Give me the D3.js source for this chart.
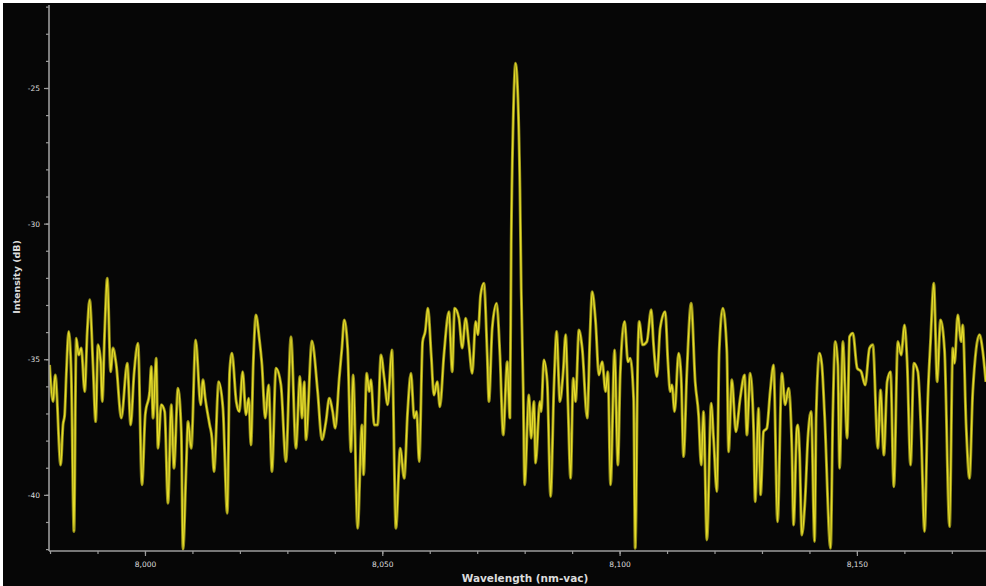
<!DOCTYPE html>
<html>
<head>
<meta charset="utf-8">
<script src="https://cdn.jsdelivr.net/npm/d3@7"></script>
<style>
  html, body { margin: 0; padding: 0; background: #ffffff; }
  svg { display: block; }
</style>
</head>
<body>
<svg id="chart" width="986" height="586"></svg>
<script>
// Spectrum trace: wavelength (nm, vacuum) and measured intensity (dB)
const wavelength = [
  7979.9, 7980.62, 7981.10, 7982.24, 7982.73, 7983.08, 7983.42, 7983.93, 7984.47, 7985.04,
  7985.53, 7986.03, 7986.58, 7987.30, 7987.84, 7988.35, 7989.05, 7989.61, 7990.10, 7990.67,
  7991.00, 7991.51, 7992.06, 7992.77, 7993.26, 7993.95, 7995.01, 7996.27, 7996.99, 7997.68,
  7998.53, 7999.37, 8000.06, 8000.99, 8001.33, 8001.69, 8002.38, 8002.74, 8003.43, 8004.15,
  8004.85, 8005.54, 8006.11, 8006.95, 8007.65, 8008.01, 8008.70, 8009.06, 8009.75, 8010.68,
  8011.73, 8012.22, 8012.70, 8013.63, 8014.11, 8014.54, 8015.53, 8016.43, 8017.34, 8017.84,
  8018.33, 8019.23,
  8019.87, 8020.58, 8021.28, 8021.85, 8022.33, 8022.81, 8023.38, 8024.08, 8024.65, 8025.34,
  8026.06, 8026.75, 8027.60, 8028.65, 8029.70, 8030.76, 8031.81, 8032.65, 8033.07, 8033.56,
  8033.92, 8035.18, 8036.38, 8037.29, 8038.13, 8038.83, 8039.54, 8040.09, 8040.93, 8041.50,
  8041.98, 8042.70, 8043.40, 8043.86, 8044.81, 8045.71, 8046.07, 8046.70, 8047.25, 8047.61,
  8048.30, 8049.02, 8049.72, 8050.41, 8051.13, 8052.03, 8052.87, 8053.78, 8054.62, 8055.34,
  8056.04, 8056.73, 8057.24, 8057.78, 8058.50, 8059.05,
  8059.62, 8060.31, 8060.88, 8061.58, 8062.14, 8062.99, 8064.04, 8064.74, 8065.24, 8066.15,
  8066.84, 8067.56, 8068.25, 8068.95, 8069.67, 8070.15, 8070.72, 8071.41, 8072.11, 8072.47,
  8073.16, 8074.09, 8074.79, 8075.48, 8076.32, 8076.89, 8077.16, 8077.58, 8078.09, 8078.58,
  8079.00, 8079.27, 8079.69, 8079.99, 8080.89, 8081.36, 8081.95, 8082.30, 8083.21, 8083.48,
  8084.05, 8084.75, 8085.47, 8086.16, 8086.73, 8087.42, 8088.12, 8088.63, 8089.11, 8089.68,
  8090.23, 8090.73, 8091.43, 8092.12, 8093.18, 8093.74, 8094.23, 8094.94, 8095.64, 8096.33,
  8097.05, 8097.53, 8098.10,
  8098.94, 8099.64, 8100.13, 8101.05, 8101.75, 8102.23, 8102.95, 8103.29, 8103.86, 8104.13,
  8104.85, 8105.75, 8106.66, 8107.16, 8107.86, 8108.55, 8109.61, 8110.18, 8110.66, 8111.02,
  8111.59, 8112.43, 8112.98, 8113.48, 8114.18, 8115.08, 8115.93, 8116.64, 8117.19, 8117.69,
  8118.39, 8119.30, 8119.80, 8120.50, 8120.98, 8121.76, 8122.60, 8122.96, 8123.66, 8124.50,
  8125.41, 8126.33, 8126.82, 8127.51, 8128.23, 8128.57, 8129.28, 8129.70, 8130.33, 8131.03,
  8131.73, 8132.44, 8133.28, 8134.19, 8134.89, 8135.60, 8136.30, 8136.66, 8137.35,
  8137.56, 8137.92, 8138.40, 8139.10, 8139.67, 8140.37, 8141.08, 8141.42, 8142.13, 8142.62,
  8143.19, 8144.45, 8144.93, 8145.42, 8145.99, 8146.35, 8147.04, 8147.95, 8148.45, 8149.15,
  8150.06, 8150.90, 8151.74, 8152.66, 8153.36, 8154.41, 8154.98, 8155.68, 8156.37, 8157.09,
  8157.78, 8158.62, 8159.32, 8160.04, 8160.58, 8161.30, 8162.00, 8162.84, 8163.53, 8164.25,
  8164.95, 8165.51, 8166.21, 8166.90, 8167.62, 8168.46, 8169.52, 8170.21, 8170.57, 8171.25,
  8171.95, 8172.31, 8173.01, 8173.72, 8174.42, 8175.83, 8176.53, 8177.16
];

const intensity = [
  -35.21, -36.56, -35.58, -38.90, -37.42, -37.05, -35.58, -33.98, -35.58, -41.35,
  -34.23, -34.84, -34.59, -36.19, -33.98, -32.81, -35.21, -37.30, -34.47, -35.09,
  -36.56, -33.98, -32.01, -35.46, -34.59, -35.21, -37.17, -35.15, -37.42, -35.58,
  -34.41, -39.63, -37.05, -36.19, -35.27, -37.17, -34.96, -38.28, -36.68, -36.93,
  -40.31, -36.68, -39.02, -36.07, -37.67, -42.00, -38.90, -37.30, -38.28, -34.29,
  -36.68, -35.76, -36.44, -37.42, -37.91, -39.14, -35.83, -36.81, -40.68, -35.46,
  -34.78, -36.56,
  -36.93, -35.46, -37.05, -36.44, -38.16, -35.21, -33.37, -34.23, -35.21, -37.17,
  -35.95, -39.14, -35.33, -35.95, -38.77, -34.17, -38.28, -35.64, -37.17, -35.83,
  -37.97, -34.33, -36.19, -37.97, -37.30, -36.44, -36.93, -37.54, -35.70, -34.59,
  -33.55, -34.59, -38.41, -35.58, -41.23, -37.42, -39.26, -35.52, -36.19, -35.76,
  -37.42, -37.42, -34.84, -35.70, -36.68, -34.66, -41.23, -38.28, -39.39, -36.93,
  -35.52, -37.17, -36.93, -38.77, -34.35, -33.98,
  -33.12, -34.84, -36.32, -35.83, -36.75, -34.84, -33.25, -35.46, -33.12, -33.49,
  -34.59, -33.49, -34.47, -35.52, -33.61, -34.10, -32.63, -32.20, -34.84, -36.56,
  -33.86, -32.94, -34.84, -37.79, -35.09, -37.17, -30.79, -26.24, -24.09, -25.38,
  -28.70, -32.38, -36.07, -39.63, -36.32, -37.91, -36.56, -38.83, -36.56, -36.93,
  -35.03, -35.83, -40.06, -36.07, -33.98, -36.56, -35.46, -34.10, -36.56, -39.39,
  -35.70, -36.56, -33.92, -34.59, -37.17, -34.23, -32.51, -33.61, -35.58, -35.09,
  -36.19, -35.46, -39.63,
  -34.66, -38.90, -35.58, -33.61, -35.09, -34.96, -36.44, -41.97, -34.72, -33.61,
  -34.47, -34.35, -33.18, -34.47, -35.64, -33.86, -33.25, -35.09, -36.19, -35.95,
  -36.93, -34.78, -35.70, -38.59, -35.46, -32.94, -35.83, -37.05, -38.90, -36.93,
  -41.66, -36.62, -37.91, -39.88, -34.72, -33.12, -34.72, -38.41, -35.76, -37.67,
  -36.44, -35.58, -37.79, -35.52, -37.54, -40.25, -36.81, -40.00, -37.67, -37.54,
  -36.19, -35.21, -40.99, -35.52, -36.68, -36.07, -38.28, -41.11, -37.54,
  -37.42, -38.41, -41.48, -40.12, -37.91, -36.93, -41.72, -37.05, -34.78, -35.21,
  -37.05, -41.97, -37.05, -34.35, -35.21, -39.02, -34.35, -37.91, -34.17, -34.04,
  -35.33, -35.46, -35.95, -34.59, -34.47, -38.28, -36.13, -38.53, -35.83, -35.46,
  -39.70, -34.35, -34.84, -33.74, -35.09, -38.90, -35.15, -35.46, -37.67, -41.35,
  -36.44, -34.35, -32.20, -35.83, -33.55, -34.66, -41.17, -34.59, -35.15, -33.37,
  -34.35, -33.74, -37.42, -39.39, -36.19, -34.10, -34.72, -35.83
];

// Axis tick values
const yMajorTicks = [-25, -30, -35, -40];
const xMajorTicks = [8000, 8050, 8100, 8150];

const svg = d3.select("#chart");
const W = 986, H = 586;

// Dark plotting surface
svg.append("rect")
  .attr("x", 3).attr("y", 3)
  .attr("width", W - 3).attr("height", H - 3)
  .attr("fill", "#060606");

const plot = { left: 49, right: 986, top: 5, bottom: 551 };

const x = d3.scaleLinear()
  .domain([7979.78, 8177.2])
  .range([plot.left, plot.right]);

const y = d3.scaleLinear()
  .domain([-42.07, -21.94])
  .range([plot.bottom, plot.top]);

const axisColor = "#9c9c9c";
const textColor = "#dcdcdc";

// Clip region for the trace
svg.append("clipPath").attr("id", "plotClip")
  .append("rect")
  .attr("x", plot.left).attr("y", plot.top)
  .attr("width", plot.right - plot.left)
  .attr("height", plot.bottom - plot.top);

// Spectrum line
const points = wavelength.map((w, i) => [w, intensity[i]]);
const line = d3.line()
  .x(d => x(d[0]))
  .y(d => y(d[1]))
  .curve(d3.curveMonotoneX);

const traceG = svg.append("g").attr("clip-path", "url(#plotClip)");
traceG.append("path")
  .datum(points)
  .attr("fill", "none")
  .attr("stroke", "#8f8a18")
  .attr("stroke-width", 3)
  .attr("stroke-linejoin", "round")
  .attr("d", line);
traceG.append("path")
  .datum(points)
  .attr("fill", "none")
  .attr("stroke", "#e6dc2a")
  .attr("stroke-width", 1.4)
  .attr("stroke-linejoin", "round")
  .attr("d", line);

// Y axis: minor ticks every 1 dB, labelled majors every 5 dB
const yMinor = d3.range(-42, -21, 1);
const yAxisG = svg.append("g")
  .attr("transform", `translate(${plot.left},0)`)
  .call(d3.axisLeft(y).tickValues(yMinor).tickSize(3).tickFormat(""));
yAxisG.select(".domain").remove();
yAxisG.selectAll(".tick line").attr("stroke", axisColor).attr("stroke-width", 1.2);

const yMajorG = svg.append("g")
  .attr("transform", `translate(${plot.left},0)`)
  .call(d3.axisLeft(y).tickValues(yMajorTicks).tickSize(5).tickPadding(4)
    .tickFormat(d => String(d)));
yMajorG.select(".domain").remove();
yMajorG.selectAll(".tick line").attr("stroke", axisColor).attr("stroke-width", 1.2);
yMajorG.selectAll(".tick text")
  .attr("fill", textColor)
  .style("font-family", "'DejaVu Sans', sans-serif")
  .style("font-size", "7.5px");

svg.append("line")
  .attr("x1", plot.left).attr("x2", plot.left)
  .attr("y1", plot.top).attr("y2", plot.bottom)
  .attr("stroke", axisColor).attr("stroke-width", 1.6);

// X axis: minor ticks every 10 nm, labelled majors every 50 nm
const xMinor = d3.range(7980, 8180, 10);
const xAxisG = svg.append("g")
  .attr("transform", `translate(0,${plot.bottom})`)
  .call(d3.axisBottom(x).tickValues(xMinor).tickSize(3).tickFormat(""));
xAxisG.select(".domain").remove();
xAxisG.selectAll(".tick line").attr("stroke", axisColor).attr("stroke-width", 1.2);

const xMajorG = svg.append("g")
  .attr("transform", `translate(0,${plot.bottom})`)
  .call(d3.axisBottom(x).tickValues(xMajorTicks).tickSize(5).tickPadding(6)
    .tickFormat(d3.format(",")));
xMajorG.select(".domain").remove();
xMajorG.selectAll(".tick line").attr("stroke", axisColor).attr("stroke-width", 1.2);
xMajorG.selectAll(".tick text")
  .attr("fill", textColor)
  .style("font-family", "'DejaVu Sans', sans-serif")
  .style("font-size", "7.5px");

svg.append("line")
  .attr("x1", plot.left).attr("x2", plot.right)
  .attr("y1", plot.bottom).attr("y2", plot.bottom)
  .attr("stroke", axisColor).attr("stroke-width", 1.6);

// Axis titles
svg.append("text")
  .attr("x", 525).attr("y", 582)
  .attr("text-anchor", "middle")
  .attr("fill", textColor)
  .style("font-family", "'DejaVu Sans', sans-serif")
  .style("font-weight", "bold")
  .style("font-size", "10.5px")
  .text("Wavelength (nm-vac)");

svg.append("text")
  .attr("transform", "translate(20,277) rotate(-90)")
  .attr("text-anchor", "middle")
  .attr("fill", textColor)
  .style("font-family", "'DejaVu Sans', sans-serif")
  .style("font-weight", "bold")
  .style("font-size", "9.5px")
  .text("Intensity (dB)");
</script>
</body>
</html>
